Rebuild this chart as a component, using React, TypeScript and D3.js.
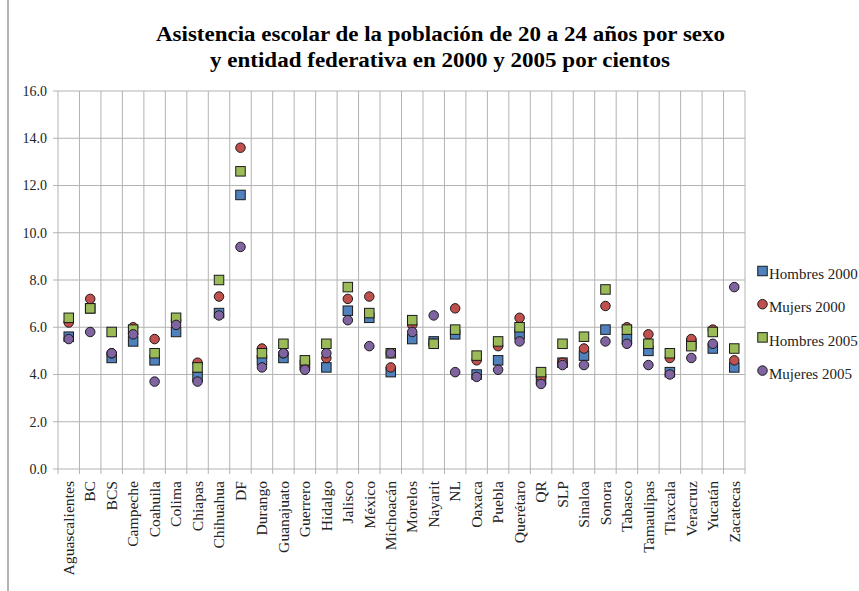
import React from "react";
import * as d3 from "d3";

const categories = ["Aguascalientes","BC","BCS","Campeche","Coahuila","Colima","Chiapas","Chihuahua","DF","Durango","Guanajuato","Guerrero","Hidalgo","Jalisco","México","Michoacán","Morelos","Nayarit","NL","Oaxaca","Puebla","Querétaro","QR","SLP","Sinaloa","Sonora","Tabasco","Tamaulipas","Tlaxcala","Veracruz","Yucatán","Zacatecas"];

const hombres2000 = [5.6,6.8,4.7,5.4,4.6,5.8,3.9,6.6,11.6,4.6,4.7,4.4,4.3,6.7,6.4,4.1,5.5,5.4,5.7,4.0,4.6,5.7,3.8,4.5,4.8,5.9,5.5,5.0,4.1,5.3,5.1,4.3];
const mujeres2000 = [6.2,7.2,4.9,6.0,5.5,6.3,4.5,7.3,13.6,5.1,4.9,4.3,4.7,7.2,7.3,4.3,6.1,5.3,6.8,4.6,5.2,6.4,3.9,4.5,5.1,6.9,6.0,5.7,4.7,5.5,5.9,4.6];
const hombres2005 = [6.4,6.8,5.8,5.9,4.9,6.4,4.3,8.0,12.6,4.9,5.3,4.6,5.3,7.7,6.6,4.9,6.3,5.3,5.9,4.8,5.4,6.0,4.1,5.3,5.6,7.6,5.9,5.3,4.9,5.2,5.8,5.1];
const mujeres2005 = [5.5,5.8,4.9,5.7,3.7,6.1,3.7,6.5,9.4,4.3,4.9,4.2,4.9,6.3,5.2,4.9,5.8,6.5,4.1,3.9,4.2,5.4,3.6,4.4,4.4,5.4,5.3,4.4,4.0,4.7,5.3,7.7];

const yTicks = [0, 2, 4, 6, 8, 10, 12, 14, 16];

const seriesNames = ["Hombres 2000", "Mujers 2000", "Hombres 2005", "Mujeres 2005"];
const seriesValues = [hombres2000, mujeres2000, hombres2005, mujeres2005];
const seriesColors = ["#4F81BD", "#C0504D", "#9BBB59", "#8064A2"];
const seriesShapes = ["square", "circle", "square", "circle"];

const W = 859, H = 591;
const left = 58, right = 745, top = 91, bottom = 469;
const FONT = "'Liberation Serif', 'Times New Roman', serif";

function Marker({ shape, x, y, color }: { shape: string; x: number; y: number; color: string }) {
  const s = 9.5;
  if (shape === "square") {
    return <rect x={x - s / 2} y={y - s / 2} width={s} height={s} fill={color} stroke="#1a1a1a" strokeWidth={1} />;
  }
  return <circle cx={x} cy={y} r={s / 2} fill={color} stroke="#1a1a1a" strokeWidth={1} />;
}

export default function App() {
  const x = d3.scaleBand<string>().domain(categories).range([left, right]).padding(0);
  const y = d3.scaleLinear().domain([0, 16]).range([bottom, top]);
  const bw = x.bandwidth();
  const boundaries = d3.range(categories.length + 1).map((i) => left + i * bw);

  return (
    <svg width={W} height={H} style={{ position: "absolute", left: 0, top: 0, background: "#fff" }}>
      <rect x={0} y={0} width={W} height={H} fill="#fff" />
      <line x1={8} x2={8} y1={0} y2={H} stroke="#9a9a9a" strokeWidth={1.5} />
      <text x={440.5} y={41} textAnchor="middle" fontFamily={FONT} fontWeight="bold" fontSize={20} fill="#000"
        textLength={569} lengthAdjust="spacingAndGlyphs">
        Asistencia escolar de la población de 20 a 24 años por sexo
      </text>
      <text x={440} y={67} textAnchor="middle" fontFamily={FONT} fontWeight="bold" fontSize={20} fill="#000"
        textLength={460} lengthAdjust="spacingAndGlyphs">
        y entidad federativa en 2000 y 2005 por cientos
      </text>

      {/* horizontal grid */}
      {yTicks.map((t) => (
        <g key={"h" + t}>
          <line x1={left - 5} x2={right} y1={y(t)} y2={y(t)} stroke="#b3b3b3" strokeWidth={1} />
          <text x={47} y={y(t)} dy="0.35em" textAnchor="end" fontFamily={FONT} fontSize={14} fill="#222">
            {t.toFixed(1)}
          </text>
        </g>
      ))}
      {/* vertical grid */}
      {boundaries.map((bx, i) => (
        <line key={"v" + i} x1={bx} x2={bx} y1={top} y2={bottom + 5} stroke="#b3b3b3" strokeWidth={1} />
      ))}

      {/* category labels */}
      {categories.map((c) => {
        const cx = (x(c) as number) + bw / 2;
        return (
          <text
            key={c}
            transform={`translate(${cx},${481}) rotate(-90) scale(1.04,1)`}
            dy="0.35em"
            textAnchor="end"
            fontFamily={FONT}
            fontSize={15}
            fill="#222"
          >
            {c}
          </text>
        );
      })}

      {/* markers */}
      {seriesValues.map((vals, si) => (
        <g key={"s" + si}>
          {vals.map((v, i) => (
            <Marker
              key={i}
              shape={seriesShapes[si]}
              x={(x(categories[i]) as number) + bw / 2}
              y={y(v)}
              color={seriesColors[si]}
            />
          ))}
        </g>
      ))}

      {/* legend */}
      {seriesNames.map((n, i) => {
        const ly = 271 + i * 33.2;
        return (
          <g key={n}>
            <Marker shape={seriesShapes[i]} x={762.5} y={ly} color={seriesColors[i]} />
            <text x={769} y={ly + 3} dy="0.35em" fontFamily={FONT} fontSize={15} fill="#222">
              {n}
            </text>
          </g>
        );
      })}
    </svg>
  );
}
